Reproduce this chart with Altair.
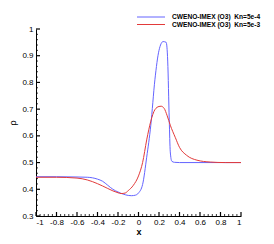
import altair as alt
import pandas as pd

# Series 1: CWENO-IMEX (O3) Kn=5e-4 (blue)
x_kn4 = [-1, -0.8, -0.6, -0.5, -0.45, -0.4, -0.35, -0.3, -0.25, -0.2, -0.15, -0.1, -0.07,
         -0.03, 0, 0.04, 0.08, 0.12, 0.16, 0.2, 0.24, 0.27, 0.285, 0.3, 0.31, 0.325, 0.35, 0.4,
         0.6, 0.8, 1]
y_kn4 = [0.447, 0.447, 0.446, 0.445, 0.443, 0.438, 0.43, 0.415, 0.4, 0.39, 0.382, 0.377, 0.376,
         0.378, 0.386, 0.418, 0.52, 0.64, 0.81, 0.92, 0.953, 0.95, 0.88, 0.66, 0.54, 0.505, 0.501, 0.5,
         0.5, 0.5, 0.5]

# Series 2: CWENO-IMEX (O3) Kn=5e-3 (red)
x_kn3 = [-1, -0.8, -0.6, -0.5, -0.4, -0.3, -0.25, -0.2, -0.17, -0.13, -0.1, -0.05, 0, 0.04,
         0.08, 0.12, 0.16, 0.2, 0.22, 0.25, 0.28, 0.31, 0.36, 0.4, 0.47, 0.57, 0.7, 0.85, 1]
y_kn3 = [0.445, 0.445, 0.442, 0.435, 0.421, 0.403, 0.394, 0.387, 0.384, 0.386, 0.395, 0.415,
         0.45, 0.5, 0.585, 0.655, 0.698, 0.71, 0.711, 0.703, 0.675, 0.64, 0.593, 0.557, 0.527,
         0.509, 0.502, 0.5, 0.5]

labels = ["CWENO-IMEX (O3)\u00a0 Kn=5e-4", "CWENO-IMEX (O3)\u00a0 Kn=5e-3"]
colors = ["#6464ff", "#e23a3a"]

x_major = [-1, -0.8, -0.6, -0.4, -0.2, 0, 0.2, 0.4, 0.6, 0.8, 1]
y_major = [0.3, 0.4, 0.5, 0.6, 0.7, 0.8, 0.9, 1]
x_minor = [round(-1 + 0.04 * i, 2) for i in range(51) if i % 5 != 0]
y_minor = [round(0.3 + 0.02 * i, 2) for i in range(36) if i % 5 != 0]

W, H = 205, 187

df = pd.concat([
    pd.DataFrame({"x": x_kn4, "y": y_kn4, "s": labels[0], "o": range(len(x_kn4))}),
    pd.DataFrame({"x": x_kn3, "y": y_kn3, "s": labels[1], "o": range(len(x_kn3))}),
])

xs = alt.Scale(domain=[-1, 1], nice=False, zero=False)
ys = alt.Scale(domain=[0.3, 1], nice=False, zero=False)
cs = alt.Scale(domain=labels, range=colors)
lab = "replace(format(datum.value, '~g'), '\u2212', '-')"

xaxis = alt.Axis(values=x_major, labelExpr=lab, ticks=False, grid=False,
                 domainColor="black", labelColor="black", labelFontSize=8,
                 labelPadding=2, titleFontSize=9, titleFontWeight="bold", titleColor="black",
                 titlePadding=1, labelFont="Liberation Sans", titleFont="Liberation Sans")
yaxis = alt.Axis(values=y_major, labelExpr=lab, ticks=False, grid=False,
                 domainColor="black", labelColor="black", labelFontSize=8,
                 labelPadding=3, titleFontSize=9, titleFontWeight="normal", titleColor="black",
                 titlePadding=4, labelFont="Liberation Sans", titleFont="Liberation Sans")

lines = alt.Chart(df).mark_line(strokeWidth=1, interpolate="monotone").encode(
    x=alt.X("x:Q", scale=xs, title="x", axis=xaxis),
    y=alt.Y("y:Q", scale=ys, title="ρ", axis=yaxis),
    color=alt.Color("s:N", scale=cs, legend=None),
    order="o:Q",
)

def xticks(vals, length, width):
    return alt.Chart(pd.DataFrame({"x": vals})).mark_rule(color="black", strokeWidth=width).encode(
        x=alt.X("x:Q", scale=xs, title="x", axis=xaxis), y=alt.value(H), y2=alt.value(H - length))

def yticks(vals, length, width):
    return alt.Chart(pd.DataFrame({"y": vals})).mark_rule(color="black", strokeWidth=width).encode(
        y=alt.Y("y:Q", scale=ys, title="ρ", axis=yaxis), x=alt.value(0), x2=alt.value(length))

def legend_row(i, ypix):
    d = pd.DataFrame({"s": [labels[i]]})
    line = alt.Chart(d).mark_rule(strokeWidth=1).encode(
        x=alt.value(101), x2=alt.value(129), y=alt.value(ypix),
        color=alt.Color("s:N", scale=cs, legend=None))
    txt = alt.Chart(d).mark_text(align="left", baseline="middle", fontSize=6.6,
                                 fontWeight="bold", font="Liberation Sans", color="black").encode(
        x=alt.value(136), y=alt.value(ypix), text="s:N")
    return line + txt

chart = alt.layer(
    lines,
    xticks(x_major, 4, 1.2), xticks(x_minor, 2, 0.8),
    yticks(y_major, 4, 1.2), yticks(y_minor, 2, 0.8),
    legend_row(0, -12), legend_row(1, -4.5),
).properties(
    width=W, height=H,
    autosize=alt.AutoSizeParams(type="none"),
    padding={"left": 28, "top": 21, "right": 25, "bottom": 20},
).configure_view(stroke=None)

chart.save("out.html", embed_options={"renderer": "svg", "actions": False})
